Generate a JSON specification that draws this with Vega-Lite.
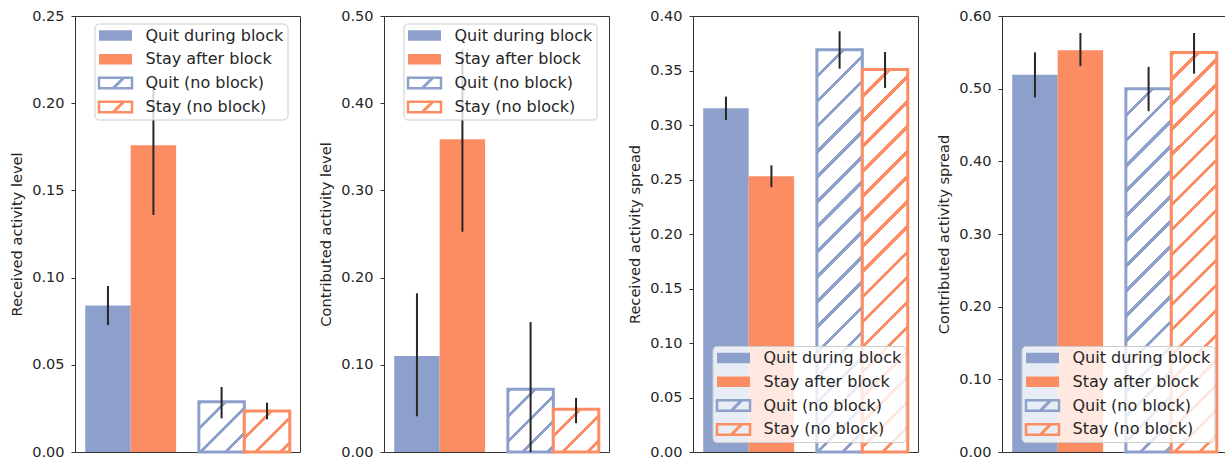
{
"$schema":"https://vega.github.io/schema/vega-lite/v6.json",
"background":"white",
"padding":{"left":9,"top":7,"right":0,"bottom":0},
"spacing":84,
"bounds":"flush",
"resolve":{"scale":{"fill":"independent","shape":"independent","y":"independent","x":"independent"},"legend":{"fill":"independent","shape":"independent"}},
"config":{"font":"DejaVu Sans","view":{"stroke":"#333333","strokeWidth":1},
"axis":{"grid":false,"domain":false,"tickColor":"#333333","tickSize":4,"tickWidth":1,"labelFontSize":14.5,"labelColor":"#262626","labelPadding":7,"labelFlush":false,"titleFontSize":14.6,"titleFontWeight":"normal","titleColor":"#262626","titlePadding":7,"format":".2f","labelFont":"DejaVu Sans","titleFont":"DejaVu Sans"},
"legend":{"title":null,"symbolSize":225,"symbolOffset":9,"labelOffset":22,"padding":4,"rowPadding":7.8,"symbolStrokeWidth":0,"symbolOpacity":1,"fillColor":"rgba(255,255,255,0.8)","strokeColor":"#cccccc","cornerRadius":4,"labelFontSize":16,"labelColor":"#262626","labelFont":"DejaVu Sans","zindex":1}},
"hconcat":[
{"width":225,"height":436,
"data":{"values":[
{"group":"block","kind":"Quit","cat":"Quit during block","v":0.084,"lo":0.0728,"hi":0.0952},
{"group":"block","kind":"Stay","cat":"Stay after block","v":0.1759,"lo":0.1359,"hi":0.2076},
{"group":"no block","kind":"Quit","cat":"Quit (no block)","v":0.0288,"lo":0.0193,"hi":0.0373},
{"group":"no block","kind":"Stay","cat":"Stay (no block)","v":0.0235,"lo":0.0187,"hi":0.0283}]},
"layer":[
{"mark":{"type":"bar"},
"encoding":{
"x":{"field":"group","type":"nominal","sort":["block","no block"],"axis":null,"scale":{"paddingInner":0.2,"paddingOuter":0.09}},
"xOffset":{"field":"kind","type":"nominal","sort":["Quit","Stay"],"scale":{"paddingInner":0,"paddingOuter":0}},
"y":{"field":"v","type":"quantitative","scale":{"domain":[0,0.25],"nice":false},"axis":{"title":"Received activity level","values":[0,0.05,0.1,0.15,0.2,0.25]}},
"fill":{"condition":[
{"test":"datum.cat === 'Quit (no block)'","value":{"gradient":"linear","x1":0,"y1":0,"x2":0.9924,"y2":1.0962,"stops":[{"offset":0,"color":"#8da0cb"},{"offset":0.042,"color":"#8da0cb"},{"offset":0.042,"color":"#ffffff"},{"offset":0.25,"color":"#ffffff"},{"offset":0.25,"color":"#8da0cb"},{"offset":0.292,"color":"#8da0cb"},{"offset":0.292,"color":"#ffffff"},{"offset":0.5,"color":"#ffffff"},{"offset":0.5,"color":"#8da0cb"},{"offset":0.542,"color":"#8da0cb"},{"offset":0.542,"color":"#ffffff"},{"offset":0.75,"color":"#ffffff"},{"offset":0.75,"color":"#8da0cb"},{"offset":0.792,"color":"#8da0cb"},{"offset":0.792,"color":"#ffffff"},{"offset":1,"color":"#ffffff"}]}},
{"test":"datum.cat === 'Stay (no block)'","value":{"gradient":"linear","x1":0,"y1":0,"x2":1.2146,"y2":1.0957,"stops":[{"offset":0,"color":"#fc8d62"},{"offset":0.042,"color":"#fc8d62"},{"offset":0.042,"color":"#ffffff"},{"offset":0.25,"color":"#ffffff"},{"offset":0.25,"color":"#fc8d62"},{"offset":0.292,"color":"#fc8d62"},{"offset":0.292,"color":"#ffffff"},{"offset":0.5,"color":"#ffffff"},{"offset":0.5,"color":"#fc8d62"},{"offset":0.542,"color":"#fc8d62"},{"offset":0.542,"color":"#ffffff"},{"offset":0.75,"color":"#ffffff"},{"offset":0.75,"color":"#fc8d62"},{"offset":0.792,"color":"#fc8d62"},{"offset":0.792,"color":"#ffffff"},{"offset":1,"color":"#ffffff"}]}},
{"test":"datum.cat === 'Quit during block'","value":"#8da0cb"}],"value":"#fc8d62"},
"stroke":{"condition":{"test":"datum.cat === 'Quit (no block)'","value":"#8da0cb"},"value":"#fc8d62"},
"strokeWidth":{"condition":{"test":"indexof(datum.cat, 'no block') >= 0","value":3},"value":0}}},
{"mark":{"type":"rule","color":"#262626","strokeWidth":2},
"encoding":{
"x":{"field":"group","type":"nominal","sort":["block","no block"]},
"xOffset":{"field":"kind","type":"nominal","sort":["Quit","Stay"]},
"y":{"field":"lo","type":"quantitative"},
"y2":{"field":"hi"}}},
{"mark":{"type":"point","filled":true,"opacity":0,"size":225},
"encoding":{
"x":{"field":"group","type":"nominal","sort":["block","no block"]},
"xOffset":{"field":"kind","type":"nominal","sort":["Quit","Stay"]},
"y":{"field":"v","type":"quantitative"},
"fill":{"field":"cat","type":"nominal","scale":{"domain":["Quit during block","Stay after block","Quit (no block)","Stay (no block)"],"range":["#8da0cb","#fc8d62","#8da0cb","#fc8d62"]},"legend":{"orient":"none","legendX":19.5,"legendY":7.5,"symbolOpacity":1}},
"shape":{"field":"cat","type":"nominal","scale":{"domain":["Quit during block","Stay after block","Quit (no block)","Stay (no block)"],"range":["M-2.2,-0.7H2.2V0.7H-2.2Z","M-2.2,-0.7H2.2V0.7H-2.2Z","M-2.367,-0.867H2.367V0.867H-2.367ZM-2.033,-0.533V0.533H2.033V-0.533ZM-0.416,0.533L0.15,0.533L1.216,-0.533L0.65,-0.533Z","M-2.367,-0.867H2.367V0.867H-2.367ZM-2.033,-0.533V0.533H2.033V-0.533ZM-0.416,0.533L0.15,0.533L1.216,-0.533L0.65,-0.533Z"]},"legend":{"orient":"none","legendX":19.5,"legendY":7.5,"symbolOpacity":1}}}}]},

{"width":225,"height":436,
"data":{"values":[
{"group":"block","kind":"Quit","cat":"Quit during block","v":0.110,"lo":0.041,"hi":0.182},
{"group":"block","kind":"Stay","cat":"Stay after block","v":0.3586,"lo":0.2526,"hi":0.4618},
{"group":"no block","kind":"Quit","cat":"Quit (no block)","v":0.072,"lo":0.0,"hi":0.149},
{"group":"no block","kind":"Stay","cat":"Stay (no block)","v":0.049,"lo":0.033,"hi":0.062}]},
"layer":[
{"mark":{"type":"bar"},
"encoding":{
"x":{"field":"group","type":"nominal","sort":["block","no block"],"axis":null,"scale":{"paddingInner":0.2,"paddingOuter":0.09}},
"xOffset":{"field":"kind","type":"nominal","sort":["Quit","Stay"],"scale":{"paddingInner":0,"paddingOuter":0}},
"y":{"field":"v","type":"quantitative","scale":{"domain":[0,0.5],"nice":false},"axis":{"title":"Contributed activity level","values":[0,0.1,0.2,0.3,0.4,0.5]}},
"fill":{"condition":[
{"test":"datum.cat === 'Quit (no block)'","value":{"gradient":"linear","x1":0,"y1":0,"x2":0.9466,"y2":1.308,"stops":[{"offset":0,"color":"#8da0cb"},{"offset":0.034,"color":"#8da0cb"},{"offset":0.034,"color":"#ffffff"},{"offset":0.2,"color":"#ffffff"},{"offset":0.2,"color":"#8da0cb"},{"offset":0.234,"color":"#8da0cb"},{"offset":0.234,"color":"#ffffff"},{"offset":0.4,"color":"#ffffff"},{"offset":0.4,"color":"#8da0cb"},{"offset":0.434,"color":"#8da0cb"},{"offset":0.434,"color":"#ffffff"},{"offset":0.6,"color":"#ffffff"},{"offset":0.6,"color":"#8da0cb"},{"offset":0.634,"color":"#8da0cb"},{"offset":0.634,"color":"#ffffff"},{"offset":0.8,"color":"#ffffff"},{"offset":0.8,"color":"#8da0cb"},{"offset":0.834,"color":"#8da0cb"},{"offset":0.834,"color":"#ffffff"},{"offset":1,"color":"#ffffff"}]}},
{"test":"datum.cat === 'Stay (no block)'","value":{"gradient":"linear","x1":0,"y1":0,"x2":1.1702,"y2":1.0994,"stops":[{"offset":0,"color":"#fc8d62"},{"offset":0.042,"color":"#fc8d62"},{"offset":0.042,"color":"#ffffff"},{"offset":0.25,"color":"#ffffff"},{"offset":0.25,"color":"#fc8d62"},{"offset":0.292,"color":"#fc8d62"},{"offset":0.292,"color":"#ffffff"},{"offset":0.5,"color":"#ffffff"},{"offset":0.5,"color":"#fc8d62"},{"offset":0.542,"color":"#fc8d62"},{"offset":0.542,"color":"#ffffff"},{"offset":0.75,"color":"#ffffff"},{"offset":0.75,"color":"#fc8d62"},{"offset":0.792,"color":"#fc8d62"},{"offset":0.792,"color":"#ffffff"},{"offset":1,"color":"#ffffff"}]}},
{"test":"datum.cat === 'Quit during block'","value":"#8da0cb"}],"value":"#fc8d62"},
"stroke":{"condition":{"test":"datum.cat === 'Quit (no block)'","value":"#8da0cb"},"value":"#fc8d62"},
"strokeWidth":{"condition":{"test":"indexof(datum.cat, 'no block') >= 0","value":3},"value":0}}},
{"mark":{"type":"rule","color":"#262626","strokeWidth":2},
"encoding":{
"x":{"field":"group","type":"nominal","sort":["block","no block"]},
"xOffset":{"field":"kind","type":"nominal","sort":["Quit","Stay"]},
"y":{"field":"lo","type":"quantitative"},
"y2":{"field":"hi"}}},
{"mark":{"type":"point","filled":true,"opacity":0,"size":225},
"encoding":{
"x":{"field":"group","type":"nominal","sort":["block","no block"]},
"xOffset":{"field":"kind","type":"nominal","sort":["Quit","Stay"]},
"y":{"field":"v","type":"quantitative"},
"fill":{"field":"cat","type":"nominal","scale":{"domain":["Quit during block","Stay after block","Quit (no block)","Stay (no block)"],"range":["#8da0cb","#fc8d62","#8da0cb","#fc8d62"]},"legend":{"orient":"none","legendX":19.5,"legendY":7.5,"symbolOpacity":1}},
"shape":{"field":"cat","type":"nominal","scale":{"domain":["Quit during block","Stay after block","Quit (no block)","Stay (no block)"],"range":["M-2.2,-0.7H2.2V0.7H-2.2Z","M-2.2,-0.7H2.2V0.7H-2.2Z","M-2.367,-0.867H2.367V0.867H-2.367ZM-2.033,-0.533V0.533H2.033V-0.533ZM-0.416,0.533L0.15,0.533L1.216,-0.533L0.65,-0.533Z","M-2.367,-0.867H2.367V0.867H-2.367ZM-2.033,-0.533V0.533H2.033V-0.533ZM-0.416,0.533L0.15,0.533L1.216,-0.533L0.65,-0.533Z"]},"legend":{"orient":"none","legendX":19.5,"legendY":7.5,"symbolOpacity":1}}}}]},

{"width":225,"height":436,
"data":{"values":[
{"group":"block","kind":"Quit","cat":"Quit during block","v":0.3153,"lo":0.3046,"hi":0.326},
{"group":"block","kind":"Stay","cat":"Stay after block","v":0.253,"lo":0.243,"hi":0.263},
{"group":"no block","kind":"Quit","cat":"Quit (no block)","v":0.369,"lo":0.3517,"hi":0.386},
{"group":"no block","kind":"Stay","cat":"Stay (no block)","v":0.351,"lo":0.334,"hi":0.367}]},
"layer":[
{"mark":{"type":"bar"},
"encoding":{
"x":{"field":"group","type":"nominal","sort":["block","no block"],"axis":null,"scale":{"paddingInner":0.2,"paddingOuter":0.09}},
"xOffset":{"field":"kind","type":"nominal","sort":["Quit","Stay"],"scale":{"paddingInner":0,"paddingOuter":0}},
"y":{"field":"v","type":"quantitative","scale":{"domain":[0,0.4],"nice":false},"axis":{"title":"Received activity spread","values":[0,0.05,0.1,0.15,0.2,0.25,0.3,0.35,0.4]}},
"fill":{"condition":[
{"test":"datum.cat === 'Quit (no block)'","value":{"gradient":"linear","x1":0,"y1":0,"x2":0.125,"y2":1.1061,"stops":[{"offset":0,"color":"#8da0cb"},{"offset":0.0094,"color":"#8da0cb"},{"offset":0.0094,"color":"#ffffff"},{"offset":0.0556,"color":"#ffffff"},{"offset":0.0556,"color":"#8da0cb"},{"offset":0.065,"color":"#8da0cb"},{"offset":0.065,"color":"#ffffff"},{"offset":0.1111,"color":"#ffffff"},{"offset":0.1111,"color":"#8da0cb"},{"offset":0.1205,"color":"#8da0cb"},{"offset":0.1205,"color":"#ffffff"},{"offset":0.1667,"color":"#ffffff"},{"offset":0.1667,"color":"#8da0cb"},{"offset":0.1761,"color":"#8da0cb"},{"offset":0.1761,"color":"#ffffff"},{"offset":0.2222,"color":"#ffffff"},{"offset":0.2222,"color":"#8da0cb"},{"offset":0.2316,"color":"#8da0cb"},{"offset":0.2316,"color":"#ffffff"},{"offset":0.2778,"color":"#ffffff"},{"offset":0.2778,"color":"#8da0cb"},{"offset":0.2872,"color":"#8da0cb"},{"offset":0.2872,"color":"#ffffff"},{"offset":0.3333,"color":"#ffffff"},{"offset":0.3333,"color":"#8da0cb"},{"offset":0.3427,"color":"#8da0cb"},{"offset":0.3427,"color":"#ffffff"},{"offset":0.3889,"color":"#ffffff"},{"offset":0.3889,"color":"#8da0cb"},{"offset":0.3983,"color":"#8da0cb"},{"offset":0.3983,"color":"#ffffff"},{"offset":0.4444,"color":"#ffffff"},{"offset":0.4444,"color":"#8da0cb"},{"offset":0.4538,"color":"#8da0cb"},{"offset":0.4538,"color":"#ffffff"},{"offset":0.5,"color":"#ffffff"},{"offset":0.5,"color":"#8da0cb"},{"offset":0.5094,"color":"#8da0cb"},{"offset":0.5094,"color":"#ffffff"},{"offset":0.5556,"color":"#ffffff"},{"offset":0.5556,"color":"#8da0cb"},{"offset":0.565,"color":"#8da0cb"},{"offset":0.565,"color":"#ffffff"},{"offset":0.6111,"color":"#ffffff"},{"offset":0.6111,"color":"#8da0cb"},{"offset":0.6205,"color":"#8da0cb"},{"offset":0.6205,"color":"#ffffff"},{"offset":0.6667,"color":"#ffffff"},{"offset":0.6667,"color":"#8da0cb"},{"offset":0.6761,"color":"#8da0cb"},{"offset":0.6761,"color":"#ffffff"},{"offset":0.7222,"color":"#ffffff"},{"offset":0.7222,"color":"#8da0cb"},{"offset":0.7316,"color":"#8da0cb"},{"offset":0.7316,"color":"#ffffff"},{"offset":0.7778,"color":"#ffffff"},{"offset":0.7778,"color":"#8da0cb"},{"offset":0.7872,"color":"#8da0cb"},{"offset":0.7872,"color":"#ffffff"},{"offset":0.8333,"color":"#ffffff"},{"offset":0.8333,"color":"#8da0cb"},{"offset":0.8427,"color":"#8da0cb"},{"offset":0.8427,"color":"#ffffff"},{"offset":0.8889,"color":"#ffffff"},{"offset":0.8889,"color":"#8da0cb"},{"offset":0.8983,"color":"#8da0cb"},{"offset":0.8983,"color":"#ffffff"},{"offset":0.9444,"color":"#ffffff"},{"offset":0.9444,"color":"#8da0cb"},{"offset":0.9538,"color":"#8da0cb"},{"offset":0.9538,"color":"#ffffff"},{"offset":1,"color":"#ffffff"}]}},
{"test":"datum.cat === 'Stay (no block)'","value":{"gradient":"linear","x1":0,"y1":0,"x2":0.138,"y2":1.1613,"stops":[{"offset":0,"color":"#fc8d62"},{"offset":0.0094,"color":"#fc8d62"},{"offset":0.0094,"color":"#ffffff"},{"offset":0.0556,"color":"#ffffff"},{"offset":0.0556,"color":"#fc8d62"},{"offset":0.065,"color":"#fc8d62"},{"offset":0.065,"color":"#ffffff"},{"offset":0.1111,"color":"#ffffff"},{"offset":0.1111,"color":"#fc8d62"},{"offset":0.1205,"color":"#fc8d62"},{"offset":0.1205,"color":"#ffffff"},{"offset":0.1667,"color":"#ffffff"},{"offset":0.1667,"color":"#fc8d62"},{"offset":0.1761,"color":"#fc8d62"},{"offset":0.1761,"color":"#ffffff"},{"offset":0.2222,"color":"#ffffff"},{"offset":0.2222,"color":"#fc8d62"},{"offset":0.2316,"color":"#fc8d62"},{"offset":0.2316,"color":"#ffffff"},{"offset":0.2778,"color":"#ffffff"},{"offset":0.2778,"color":"#fc8d62"},{"offset":0.2872,"color":"#fc8d62"},{"offset":0.2872,"color":"#ffffff"},{"offset":0.3333,"color":"#ffffff"},{"offset":0.3333,"color":"#fc8d62"},{"offset":0.3427,"color":"#fc8d62"},{"offset":0.3427,"color":"#ffffff"},{"offset":0.3889,"color":"#ffffff"},{"offset":0.3889,"color":"#fc8d62"},{"offset":0.3983,"color":"#fc8d62"},{"offset":0.3983,"color":"#ffffff"},{"offset":0.4444,"color":"#ffffff"},{"offset":0.4444,"color":"#fc8d62"},{"offset":0.4538,"color":"#fc8d62"},{"offset":0.4538,"color":"#ffffff"},{"offset":0.5,"color":"#ffffff"},{"offset":0.5,"color":"#fc8d62"},{"offset":0.5094,"color":"#fc8d62"},{"offset":0.5094,"color":"#ffffff"},{"offset":0.5556,"color":"#ffffff"},{"offset":0.5556,"color":"#fc8d62"},{"offset":0.565,"color":"#fc8d62"},{"offset":0.565,"color":"#ffffff"},{"offset":0.6111,"color":"#ffffff"},{"offset":0.6111,"color":"#fc8d62"},{"offset":0.6205,"color":"#fc8d62"},{"offset":0.6205,"color":"#ffffff"},{"offset":0.6667,"color":"#ffffff"},{"offset":0.6667,"color":"#fc8d62"},{"offset":0.6761,"color":"#fc8d62"},{"offset":0.6761,"color":"#ffffff"},{"offset":0.7222,"color":"#ffffff"},{"offset":0.7222,"color":"#fc8d62"},{"offset":0.7316,"color":"#fc8d62"},{"offset":0.7316,"color":"#ffffff"},{"offset":0.7778,"color":"#ffffff"},{"offset":0.7778,"color":"#fc8d62"},{"offset":0.7872,"color":"#fc8d62"},{"offset":0.7872,"color":"#ffffff"},{"offset":0.8333,"color":"#ffffff"},{"offset":0.8333,"color":"#fc8d62"},{"offset":0.8427,"color":"#fc8d62"},{"offset":0.8427,"color":"#ffffff"},{"offset":0.8889,"color":"#ffffff"},{"offset":0.8889,"color":"#fc8d62"},{"offset":0.8983,"color":"#fc8d62"},{"offset":0.8983,"color":"#ffffff"},{"offset":0.9444,"color":"#ffffff"},{"offset":0.9444,"color":"#fc8d62"},{"offset":0.9538,"color":"#fc8d62"},{"offset":0.9538,"color":"#ffffff"},{"offset":1,"color":"#ffffff"}]}},
{"test":"datum.cat === 'Quit during block'","value":"#8da0cb"}],"value":"#fc8d62"},
"stroke":{"condition":{"test":"datum.cat === 'Quit (no block)'","value":"#8da0cb"},"value":"#fc8d62"},
"strokeWidth":{"condition":{"test":"indexof(datum.cat, 'no block') >= 0","value":3},"value":0}}},
{"mark":{"type":"rule","color":"#262626","strokeWidth":2},
"encoding":{
"x":{"field":"group","type":"nominal","sort":["block","no block"]},
"xOffset":{"field":"kind","type":"nominal","sort":["Quit","Stay"]},
"y":{"field":"lo","type":"quantitative"},
"y2":{"field":"hi"}}},
{"mark":{"type":"point","filled":true,"opacity":0,"size":225},
"encoding":{
"x":{"field":"group","type":"nominal","sort":["block","no block"]},
"xOffset":{"field":"kind","type":"nominal","sort":["Quit","Stay"]},
"y":{"field":"v","type":"quantitative"},
"fill":{"field":"cat","type":"nominal","scale":{"domain":["Quit during block","Stay after block","Quit (no block)","Stay (no block)"],"range":["#8da0cb","#fc8d62","#8da0cb","#fc8d62"]},"legend":{"orient":"none","legendX":19.5,"legendY":330,"symbolOpacity":1}},
"shape":{"field":"cat","type":"nominal","scale":{"domain":["Quit during block","Stay after block","Quit (no block)","Stay (no block)"],"range":["M-2.2,-0.7H2.2V0.7H-2.2Z","M-2.2,-0.7H2.2V0.7H-2.2Z","M-2.367,-0.867H2.367V0.867H-2.367ZM-2.033,-0.533V0.533H2.033V-0.533ZM-0.416,0.533L0.15,0.533L1.216,-0.533L0.65,-0.533Z","M-2.367,-0.867H2.367V0.867H-2.367ZM-2.033,-0.533V0.533H2.033V-0.533ZM-0.416,0.533L0.15,0.533L1.216,-0.533L0.65,-0.533Z"]},"legend":{"orient":"none","legendX":19.5,"legendY":330,"symbolOpacity":1}}}}]},

{"width":225,"height":436,
"data":{"values":[
{"group":"block","kind":"Quit","cat":"Quit during block","v":0.519,"lo":0.488,"hi":0.55},
{"group":"block","kind":"Stay","cat":"Stay after block","v":0.553,"lo":0.531,"hi":0.5766},
{"group":"no block","kind":"Quit","cat":"Quit (no block)","v":0.4998,"lo":0.469,"hi":0.53},
{"group":"no block","kind":"Stay","cat":"Stay (no block)","v":0.5497,"lo":0.5206,"hi":0.5766}]},
"layer":[
{"mark":{"type":"bar"},
"encoding":{
"x":{"field":"group","type":"nominal","sort":["block","no block"],"axis":null,"scale":{"paddingInner":0.2,"paddingOuter":0.09}},
"xOffset":{"field":"kind","type":"nominal","sort":["Quit","Stay"],"scale":{"paddingInner":0,"paddingOuter":0}},
"y":{"field":"v","type":"quantitative","scale":{"domain":[0,0.6],"nice":false},"axis":{"title":"Contributed activity spread","values":[0,0.1,0.2,0.3,0.4,0.5,0.6]}},
"fill":{"condition":[
{"test":"datum.cat === 'Quit (no block)'","value":{"gradient":"linear","x1":0,"y1":0,"x2":0.1444,"y2":1.1536,"stops":[{"offset":0,"color":"#8da0cb"},{"offset":0.01,"color":"#8da0cb"},{"offset":0.01,"color":"#ffffff"},{"offset":0.0588,"color":"#ffffff"},{"offset":0.0588,"color":"#8da0cb"},{"offset":0.0688,"color":"#8da0cb"},{"offset":0.0688,"color":"#ffffff"},{"offset":0.1176,"color":"#ffffff"},{"offset":0.1176,"color":"#8da0cb"},{"offset":0.1276,"color":"#8da0cb"},{"offset":0.1276,"color":"#ffffff"},{"offset":0.1765,"color":"#ffffff"},{"offset":0.1765,"color":"#8da0cb"},{"offset":0.1865,"color":"#8da0cb"},{"offset":0.1865,"color":"#ffffff"},{"offset":0.2353,"color":"#ffffff"},{"offset":0.2353,"color":"#8da0cb"},{"offset":0.2453,"color":"#8da0cb"},{"offset":0.2453,"color":"#ffffff"},{"offset":0.2941,"color":"#ffffff"},{"offset":0.2941,"color":"#8da0cb"},{"offset":0.3041,"color":"#8da0cb"},{"offset":0.3041,"color":"#ffffff"},{"offset":0.3529,"color":"#ffffff"},{"offset":0.3529,"color":"#8da0cb"},{"offset":0.3629,"color":"#8da0cb"},{"offset":0.3629,"color":"#ffffff"},{"offset":0.4118,"color":"#ffffff"},{"offset":0.4118,"color":"#8da0cb"},{"offset":0.4218,"color":"#8da0cb"},{"offset":0.4218,"color":"#ffffff"},{"offset":0.4706,"color":"#ffffff"},{"offset":0.4706,"color":"#8da0cb"},{"offset":0.4806,"color":"#8da0cb"},{"offset":0.4806,"color":"#ffffff"},{"offset":0.5294,"color":"#ffffff"},{"offset":0.5294,"color":"#8da0cb"},{"offset":0.5394,"color":"#8da0cb"},{"offset":0.5394,"color":"#ffffff"},{"offset":0.5882,"color":"#ffffff"},{"offset":0.5882,"color":"#8da0cb"},{"offset":0.5982,"color":"#8da0cb"},{"offset":0.5982,"color":"#ffffff"},{"offset":0.6471,"color":"#ffffff"},{"offset":0.6471,"color":"#8da0cb"},{"offset":0.6571,"color":"#8da0cb"},{"offset":0.6571,"color":"#ffffff"},{"offset":0.7059,"color":"#ffffff"},{"offset":0.7059,"color":"#8da0cb"},{"offset":0.7159,"color":"#8da0cb"},{"offset":0.7159,"color":"#ffffff"},{"offset":0.7647,"color":"#ffffff"},{"offset":0.7647,"color":"#8da0cb"},{"offset":0.7747,"color":"#8da0cb"},{"offset":0.7747,"color":"#ffffff"},{"offset":0.8235,"color":"#ffffff"},{"offset":0.8235,"color":"#8da0cb"},{"offset":0.8335,"color":"#8da0cb"},{"offset":0.8335,"color":"#ffffff"},{"offset":0.8824,"color":"#ffffff"},{"offset":0.8824,"color":"#8da0cb"},{"offset":0.8924,"color":"#8da0cb"},{"offset":0.8924,"color":"#ffffff"},{"offset":0.9412,"color":"#ffffff"},{"offset":0.9412,"color":"#8da0cb"},{"offset":0.9512,"color":"#8da0cb"},{"offset":0.9512,"color":"#ffffff"},{"offset":1,"color":"#ffffff"}]}},
{"test":"datum.cat === 'Stay (no block)'","value":{"gradient":"linear","x1":0,"y1":0,"x2":0.1267,"y2":1.1137,"stops":[{"offset":0,"color":"#fc8d62"},{"offset":0.0094,"color":"#fc8d62"},{"offset":0.0094,"color":"#ffffff"},{"offset":0.0556,"color":"#ffffff"},{"offset":0.0556,"color":"#fc8d62"},{"offset":0.065,"color":"#fc8d62"},{"offset":0.065,"color":"#ffffff"},{"offset":0.1111,"color":"#ffffff"},{"offset":0.1111,"color":"#fc8d62"},{"offset":0.1205,"color":"#fc8d62"},{"offset":0.1205,"color":"#ffffff"},{"offset":0.1667,"color":"#ffffff"},{"offset":0.1667,"color":"#fc8d62"},{"offset":0.1761,"color":"#fc8d62"},{"offset":0.1761,"color":"#ffffff"},{"offset":0.2222,"color":"#ffffff"},{"offset":0.2222,"color":"#fc8d62"},{"offset":0.2316,"color":"#fc8d62"},{"offset":0.2316,"color":"#ffffff"},{"offset":0.2778,"color":"#ffffff"},{"offset":0.2778,"color":"#fc8d62"},{"offset":0.2872,"color":"#fc8d62"},{"offset":0.2872,"color":"#ffffff"},{"offset":0.3333,"color":"#ffffff"},{"offset":0.3333,"color":"#fc8d62"},{"offset":0.3427,"color":"#fc8d62"},{"offset":0.3427,"color":"#ffffff"},{"offset":0.3889,"color":"#ffffff"},{"offset":0.3889,"color":"#fc8d62"},{"offset":0.3983,"color":"#fc8d62"},{"offset":0.3983,"color":"#ffffff"},{"offset":0.4444,"color":"#ffffff"},{"offset":0.4444,"color":"#fc8d62"},{"offset":0.4538,"color":"#fc8d62"},{"offset":0.4538,"color":"#ffffff"},{"offset":0.5,"color":"#ffffff"},{"offset":0.5,"color":"#fc8d62"},{"offset":0.5094,"color":"#fc8d62"},{"offset":0.5094,"color":"#ffffff"},{"offset":0.5556,"color":"#ffffff"},{"offset":0.5556,"color":"#fc8d62"},{"offset":0.565,"color":"#fc8d62"},{"offset":0.565,"color":"#ffffff"},{"offset":0.6111,"color":"#ffffff"},{"offset":0.6111,"color":"#fc8d62"},{"offset":0.6205,"color":"#fc8d62"},{"offset":0.6205,"color":"#ffffff"},{"offset":0.6667,"color":"#ffffff"},{"offset":0.6667,"color":"#fc8d62"},{"offset":0.6761,"color":"#fc8d62"},{"offset":0.6761,"color":"#ffffff"},{"offset":0.7222,"color":"#ffffff"},{"offset":0.7222,"color":"#fc8d62"},{"offset":0.7316,"color":"#fc8d62"},{"offset":0.7316,"color":"#ffffff"},{"offset":0.7778,"color":"#ffffff"},{"offset":0.7778,"color":"#fc8d62"},{"offset":0.7872,"color":"#fc8d62"},{"offset":0.7872,"color":"#ffffff"},{"offset":0.8333,"color":"#ffffff"},{"offset":0.8333,"color":"#fc8d62"},{"offset":0.8427,"color":"#fc8d62"},{"offset":0.8427,"color":"#ffffff"},{"offset":0.8889,"color":"#ffffff"},{"offset":0.8889,"color":"#fc8d62"},{"offset":0.8983,"color":"#fc8d62"},{"offset":0.8983,"color":"#ffffff"},{"offset":0.9444,"color":"#ffffff"},{"offset":0.9444,"color":"#fc8d62"},{"offset":0.9538,"color":"#fc8d62"},{"offset":0.9538,"color":"#ffffff"},{"offset":1,"color":"#ffffff"}]}},
{"test":"datum.cat === 'Quit during block'","value":"#8da0cb"}],"value":"#fc8d62"},
"stroke":{"condition":{"test":"datum.cat === 'Quit (no block)'","value":"#8da0cb"},"value":"#fc8d62"},
"strokeWidth":{"condition":{"test":"indexof(datum.cat, 'no block') >= 0","value":3},"value":0}}},
{"mark":{"type":"rule","color":"#262626","strokeWidth":2},
"encoding":{
"x":{"field":"group","type":"nominal","sort":["block","no block"]},
"xOffset":{"field":"kind","type":"nominal","sort":["Quit","Stay"]},
"y":{"field":"lo","type":"quantitative"},
"y2":{"field":"hi"}}},
{"mark":{"type":"point","filled":true,"opacity":0,"size":225},
"encoding":{
"x":{"field":"group","type":"nominal","sort":["block","no block"]},
"xOffset":{"field":"kind","type":"nominal","sort":["Quit","Stay"]},
"y":{"field":"v","type":"quantitative"},
"fill":{"field":"cat","type":"nominal","scale":{"domain":["Quit during block","Stay after block","Quit (no block)","Stay (no block)"],"range":["#8da0cb","#fc8d62","#8da0cb","#fc8d62"]},"legend":{"orient":"none","legendX":19.5,"legendY":330,"symbolOpacity":1}},
"shape":{"field":"cat","type":"nominal","scale":{"domain":["Quit during block","Stay after block","Quit (no block)","Stay (no block)"],"range":["M-2.2,-0.7H2.2V0.7H-2.2Z","M-2.2,-0.7H2.2V0.7H-2.2Z","M-2.367,-0.867H2.367V0.867H-2.367ZM-2.033,-0.533V0.533H2.033V-0.533ZM-0.416,0.533L0.15,0.533L1.216,-0.533L0.65,-0.533Z","M-2.367,-0.867H2.367V0.867H-2.367ZM-2.033,-0.533V0.533H2.033V-0.533ZM-0.416,0.533L0.15,0.533L1.216,-0.533L0.65,-0.533Z"]},"legend":{"orient":"none","legendX":19.5,"legendY":330,"symbolOpacity":1}}}}]}
]
}
